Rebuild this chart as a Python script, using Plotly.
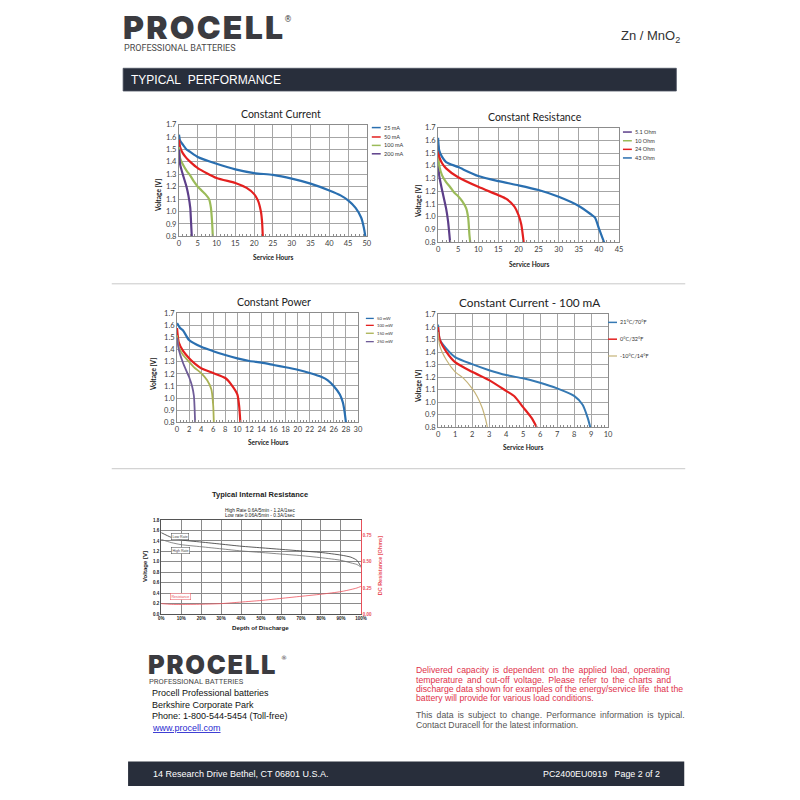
import plotly.graph_objects as go

# ---- data ----
# Constant Current
cc25_h = [0, 0.3, 1, 2, 3, 5, 10, 15, 20, 25, 30, 35, 40, 43, 45, 47, 48.5, 49.2, 49.6]
cc25_v = [1.62, 1.57, 1.54, 1.50, 1.48, 1.44, 1.385, 1.34, 1.31, 1.295, 1.265, 1.225, 1.17, 1.13, 1.09, 1.03, 0.95, 0.87, 0.80]
cc50_h = [0, 0.3, 1, 2, 3, 5, 10, 15, 18, 20, 21, 21.8, 22.1, 22.3]
cc50_v = [1.58, 1.52, 1.47, 1.43, 1.40, 1.35, 1.27, 1.23, 1.19, 1.14, 1.09, 1.0, 0.92, 0.80]
cc100_h = [0, 0.3, 1, 2, 3, 4, 5, 6, 7, 8, 8.5, 8.8, 9.0]
cc100_v = [1.52, 1.43, 1.38, 1.33, 1.29, 1.24, 1.20, 1.17, 1.14, 1.10, 1.03, 0.92, 0.80]
cc200_h = [0, 0.3, 1, 2, 2.5, 3.0, 3.2, 3.4]
cc200_v = [1.50, 1.38, 1.30, 1.20, 1.13, 1.03, 0.92, 0.80]

# Constant Resistance
cr43_h = [0, 0.3, 1, 2, 5, 10, 15, 20, 25, 30, 35, 38, 39, 40, 41.3]
cr43_v = [1.62, 1.52, 1.47, 1.43, 1.39, 1.32, 1.28, 1.247, 1.21, 1.157, 1.085, 1.02, 0.995, 0.91, 0.80]
cr24_h = [0, 0.3, 1, 2, 5, 10, 15, 17, 19, 20, 20.7, 21.3]
cr24_v = [1.56, 1.47, 1.42, 1.38, 1.31, 1.235, 1.17, 1.14, 1.08, 1.015, 0.94, 0.80]
cr10_h = [0, 0.3, 1, 2, 3, 4, 5, 6, 7, 7.5, 7.8, 8.0]
cr10_v = [1.50, 1.40, 1.325, 1.273, 1.234, 1.19, 1.162, 1.123, 1.066, 0.99, 0.86, 0.80]
cr5_h = [0, 0.3, 1, 2, 2.5, 3.0]
cr5_v = [1.43, 1.32, 1.21, 1.066, 0.963, 0.80]

# Constant Power
cp50_h = [0, 0.5, 1, 2, 4, 6, 8, 10, 12, 14, 16, 18, 20, 22, 24, 25, 26, 27, 27.5, 27.8, 28]
cp50_v = [1.62, 1.58, 1.56, 1.48, 1.424, 1.388, 1.356, 1.329, 1.307, 1.293, 1.274, 1.255, 1.234, 1.207, 1.174, 1.147, 1.098, 1.03, 0.963, 0.88, 0.80]
cp100_h = [0, 0.3, 1, 2, 3, 4, 6, 8, 9, 10, 10.3, 10.5]
cp100_v = [1.58, 1.46, 1.39, 1.33, 1.283, 1.247, 1.207, 1.166, 1.112, 1.03, 0.936, 0.80]
cp150_h = [0, 0.3, 1, 2, 3, 4, 5, 5.7, 6.0, 6.1]
cp150_v = [1.52, 1.42, 1.356, 1.30, 1.247, 1.207, 1.147, 1.071, 0.936, 0.80]
cp250_h = [0, 0.3, 1, 2, 2.5, 2.8, 3.0]
cp250_v = [1.50, 1.40, 1.29, 1.174, 1.098, 1.017, 0.80]

# Constant Current - 100 mA, by temperature
t21_h = [0, 0.1, 0.5, 1, 2, 3, 4, 5, 6, 7, 8, 8.5, 8.8, 8.95]
t21_v = [1.62, 1.50, 1.426, 1.36, 1.303, 1.255, 1.216, 1.19, 1.155, 1.11, 1.05, 0.979, 0.874, 0.80]
t0_h = [0, 0.1, 0.5, 1, 2, 3, 4, 4.5, 5, 5.5, 5.8]
t0_v = [1.60, 1.50, 1.40, 1.32, 1.242, 1.176, 1.09, 1.045, 0.96, 0.874, 0.80]
tm10_h = [0, 0.1, 0.5, 1, 1.5, 2, 2.3, 2.6, 2.8, 2.9]
tm10_v = [1.56, 1.45, 1.334, 1.242, 1.19, 1.11, 1.045, 0.953, 0.86, 0.80]

# Typical Internal Resistance
dod = [0, 5, 10, 20, 30, 40, 50, 60, 70, 80, 90, 95, 98, 100]
low_rate_v = [1.56, 1.47, 1.42, 1.38, 1.34, 1.30, 1.27, 1.24, 1.21, 1.18, 1.13, 1.09, 1.03, 0.91]
high_rate_v = [1.43, 1.37, 1.33, 1.29, 1.25, 1.21, 1.18, 1.15, 1.12, 1.08, 1.03, 0.98, 0.95, 0.90]
resistance_ohm = [0.10, 0.093, 0.092, 0.094, 0.10, 0.115, 0.13, 0.15, 0.17, 0.19, 0.215, 0.235, 0.25, 0.265]

BLUE = "#2a6fb0"
RED = "#e3201f"
GREEN = "#9bbb59"
PURPLE = "#5d3f8a"


def X(p):
    return p / 800


def Y(p):
    return 1 - p / 800


fig = go.Figure()


def add_line(h, v, ax, color, width=2.2):
    fig.add_trace(go.Scatter(x=h, y=v, xaxis="x" + ax, yaxis="y" + ax, mode="lines",
                             line=dict(color=color, width=width, shape="spline", smoothing=0.6),
                             showlegend=False, hoverinfo="skip"))


add_line(cc25_h, cc25_v, "", BLUE)
add_line(cc50_h, cc50_v, "", RED)
add_line(cc100_h, cc100_v, "", GREEN)
add_line(cc200_h, cc200_v, "", PURPLE)

add_line(cr5_h, cr5_v, "2", PURPLE)
add_line(cr10_h, cr10_v, "2", GREEN)
add_line(cr24_h, cr24_v, "2", RED)
add_line(cr43_h, cr43_v, "2", BLUE)

add_line(cp50_h, cp50_v, "3", BLUE)
add_line(cp100_h, cp100_v, "3", RED)
add_line(cp150_h, cp150_v, "3", "#a9b152", 1.8)
add_line(cp250_h, cp250_v, "3", "#6f5c98", 1.8)

add_line(t21_h, t21_v, "4", "#3579b3", 2.0)
add_line(t0_h, t0_v, "4", RED, 2.2)
add_line(tm10_h, tm10_v, "4", "#c5b378", 1.2)

add_line(dod, low_rate_v, "5", "#4a4a4a", 0.9)
add_line(dod, high_rate_v, "5", "#6e6e6e", 0.8)
fig.add_trace(go.Scatter(x=dod, y=resistance_ohm, xaxis="x5", yaxis="y6", mode="lines",
                         line=dict(color="#ee5560", width=0.8, shape="spline", smoothing=0.6),
                         showlegend=False, hoverinfo="skip"))

tickfont = dict(family="Lato", size=7.5, color="#404040")


def xax(x0, x1, anchor, rng, dtick, minor):
    return dict(domain=[X(x0), X(x1)], anchor=anchor, range=rng, dtick=dtick, tick0=0,
                showline=True, linecolor="#8c8c8c", mirror=True, showgrid=True,
                gridcolor="#a6a6a6", gridwidth=1, zeroline=False, ticks="",
                tickfont=tickfont, fixedrange=True,
                minor=dict(ticks="inside", ticklen=2, tickcolor="#8c8c8c", dtick=minor, showgrid=False))


def yax(y0, y1, anchor):
    return dict(domain=[Y(y1), Y(y0)], anchor=anchor, range=[0.8, 1.7], dtick=0.1, tick0=0.8,
                tickformat=".1f", showline=True, linecolor="#8c8c8c", mirror=True,
                showgrid=True, gridcolor="#a6a6a6", gridwidth=1, zeroline=False, ticks="",
                tickfont=tickfont, fixedrange=True)


small = dict(family="Liberation Sans", size=4.5, color="#222222", weight="bold")

fig.update_layout(
    width=800, height=800, margin=dict(l=0, r=0, t=0, b=0),
    paper_bgcolor="white", plot_bgcolor="white",
    xaxis=xax(178, 368, "y", [0, 50], 5, 1),
    yaxis=yax(122, 235, "x"),
    xaxis2=xax(440, 623, "y2", [0, 45], 5, 1),
    yaxis2=yax(125, 241, "x2"),
    xaxis3=xax(176, 359, "y3", [0, 30], 2, 0.5),
    yaxis3=yax(313, 423, "x3"),
    xaxis4=xax(440, 612, "y4", [0, 10], 1, 0.2),
    yaxis4=yax(314, 428, "x4"),
    xaxis5=dict(domain=[X(160), X(362)], anchor="y5", range=[0, 100], dtick=10, ticksuffix="%",
                showline=True, linecolor="#555555", mirror=True, showgrid=True,
                gridcolor="#8a8a8a", gridwidth=0.6, zeroline=False, ticks="",
                tickfont=small, fixedrange=True),
    yaxis5=dict(domain=[Y(617), Y(522)], anchor="x5", range=[0, 1.8], dtick=0.2,
                tickformat=".1f", showline=True, linecolor="#555555", showgrid=True,
                gridcolor="#8a8a8a", gridwidth=0.6, zeroline=False, ticks="",
                tickfont=small, fixedrange=True),
    yaxis6=dict(overlaying="y5", anchor="x5", side="right", range=[0, 0.9], dtick=0.25,
                tickformat=".2f", showline=True, linecolor="#e8505a", showgrid=False,
                zeroline=False, ticks="", tickfont=dict(family="Liberation Sans", size=4.5,
                                                         color="#e8505a", weight="bold"),
                fixedrange=True),
)

ann = []
shapes = []


def text(x, y, s, size, color="#222222", family="Lato", weight="normal", xanchor="center",
         angle=0, **kw):
    ann.append(dict(x=X(x), y=Y(y), xref="paper", yref="paper", text=s, showarrow=False,
                    xanchor=xanchor, yanchor="middle", textangle=angle,
                    font=dict(family=family, size=size, color=color, weight=weight), **kw))


def legend(items, x0, x1, ys, size):
    for (label, color, w), y in zip(items, ys):
        shapes.append(dict(type="line", xref="paper", yref="paper", x0=X(x0), x1=X(x1),
                           y0=Y(y), y1=Y(y), line=dict(color=color, width=w)))
        text(x1 + 1.5, y, label, size, color="#333333", xanchor="left")


HS = "\u200a"
TS = "\u2009"
logo = HS.join("PROCELL")

# header
text(119, 24, logo, 32, color="#3b3b40", family="Inter", weight=900, xanchor="left")
text(288, 16, "®", 8, color="#3b3b40", family="DejaVu Sans", xanchor="center")
text(120, 44, "PROFESSIONAL BATTERIES", 9.0, color="#4a4a4a", family="Roboto", xanchor="left")
text(687, 33, "Zn / MnO<sub>2</sub>", 13, color="#333333", family="Liberation Sans", xanchor="right")
shapes.append(dict(type="rect", xref="paper", yref="paper", x0=X(121.5), x1=X(681), y0=Y(88), y1=Y(65),
                   fillcolor="#282e3b", line=dict(color="#4a5060", width=0.8)))
text(127, 76.5, "TYPICAL\u00a0\u00a0PERFORMANCE", 12, color="white", family="Liberation Sans",
     xanchor="left")

# separators
for yy in (283, 470):
    shapes.append(dict(type="line", xref="paper", yref="paper", x0=X(110), x1=X(690),
                       y0=Y(yy), y1=Y(yy), line=dict(color="#c8c8c8", width=1)))

# chart titles and axis titles
text(281, 111, "Constant Current", 10.5)
text(538, 114, "Constant Resistance", 10.5)
text(274, 301, "Constant Power", 10.5)
text(532, 302, "Constant Current - 100 mA", 11.8)
for (x, y) in [(273, 256), (532, 263), (268, 443), (526, 449)]:
    text(x, y, "Service Hours", 6.5, weight="bold")
for (x, y) in [(158, 194), (420, 200), (153, 375), (420, 387)]:
    text(x, y, "Voltage [V]", 6.5, weight="bold", angle=-90)

legend([("25 mA", BLUE, 1.5), ("50 mA", RED, 1.5), ("100 mA", GREEN, 1.5), ("200 mA", PURPLE, 1.5)],
       373, 382, [125, 134.5, 143, 151.5], 5.5)
legend([("5.1 Ohm", PURPLE, 1.5), ("10 Ohm", GREEN, 1.5), ("24 Ohm", RED, 1.5), ("43 Ohm", BLUE, 1.5)],
       627, 636, [129.5, 138.3, 147, 155.7], 5.5)
legend([("50 mW", BLUE, 1.3), ("100 mW", RED, 1.3), ("150 mW", "#a9b152", 1.3), ("250 mW", "#6f5c98", 1.3)],
       367, 375, [318, 325, 333, 341.5], 4.2)
legend([("21°C/70°F", "#3579b3", 1.5), ("0°C/32°F", RED, 1.5), ("-10°C/14°F", "#c5b378", 1.2)],
       612, 621, [322, 339, 356], 5.5)

# internal resistance chart
text(260, 496.5, "Typical Internal Resistance", 7.5, family="Liberation Sans", weight="bold")
text(260, 512.5, "High Rate 0.6A/5min - 1.2A/1sec", 4.8, family="Liberation Sans")
text(260, 517.8, "Low rate 0.06A/5min - 0.3A/1sec", 4.8, family="Liberation Sans")
text(260, 631, "Depth of Discharge", 6.2, family="Liberation Sans", weight="bold")
text(143, 569, "Voltage [V]", 6, family="Liberation Sans", weight="bold", angle=-90)
text(381, 568, "DC Resistance [Ohms]", 5.5, color="#e8505a", family="Liberation Sans",
     weight="bold", angle=-90)
for lbl, yv, col, yr in [("Low Rate", 1.49, "#444444", "y5"), ("High Rate", 1.21, "#444444", "y5"),
                         ("Resistance", 0.165, "#e8505a", "y6")]:
    ann.append(dict(x=9.5, y=yv, xref="x5", yref=yr, text=lbl, showarrow=False,
                    font=dict(family="Liberation Sans", size=3.6, color=col),
                    bgcolor="white", bordercolor=col, borderwidth=0.5, borderpad=1))

# footer
text(145, 668.5, logo, 25.5, color="#3b3b40", family="Inter", weight=900, xanchor="left")
text(284, 660.5, "®", 6, color="#3b3b40", family="DejaVu Sans")
text(146, 685.5, "PROFESSIONAL BATTERIES", 7.6, color="#4a4a4a", family="Roboto", xanchor="left")
for i, line in enumerate(["Procell Professional batteries", "Berkshire Corporate Park",
                          "Phone: 1-800-544-5454 (Toll-free)"]):
    text(149, 697 + 11.8 * i, line, 9, color="#111111", family="Liberation Sans", xanchor="left")
text(149, 732.5, "<u>www.procell.com</u>", 9, color="#2a2ad0", family="Liberation Sans", xanchor="left")

red_lines = [(TS + " ").join("Delivered capacity is dependent on the applied load, operating".split(" ")),
             (TS + " ").join("temperature and cut-off voltage. Please refer to the charts and".split(" ")),
             "discharge data shown for examples of the energy/service life  that the",
             "battery will provide for various load conditions."]
for i, line in enumerate(red_lines):
    text(416, 674 + 9.3 * i, line, 8.7, color="#e0304a", family="Liberation Sans", xanchor="left")
gray_lines = [(TS + " ").join("This data is subject to change. Performance information is typical.".split(" ")),
              "Contact Duracell for the latest information."]
for i, line in enumerate(gray_lines):
    text(416, 719 + 10 * i, line, 8.7, color="#555555", family="Liberation Sans", xanchor="left")

shapes.append(dict(type="rect", xref="paper", yref="paper", x0=X(126.5), x1=X(689), y0=Y(791), y1=Y(766),
                   fillcolor="#282e3b", line=dict(width=0)))
text(150, 778.5, "14 Research Drive Bethel, CT 06801 U.S.A.", 9, color="white",
     family="Liberation Sans", xanchor="left")
text(667, 778.5, "PC2400EU0919\u00a0\u00a0\u00a0Page 2 of 2", 8.9, color="white",
     family="Liberation Sans", xanchor="right")

fig.update_layout(annotations=ann, shapes=shapes)

fig.write_html("out.html", config={"displayModeBar": False},
               post_script="document.body.style.margin='0px';"
                           "var d=document.getElementById('{plot_id}');"
                           "d.style.position='absolute';d.style.top='0px';d.style.left='0px';")
